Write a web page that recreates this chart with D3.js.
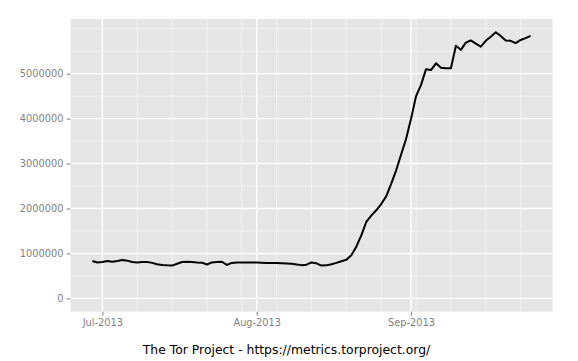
<!DOCTYPE html>
<html>
<head>
<meta charset="utf-8">
<script src="https://cdn.jsdelivr.net/npm/d3@7"></script>
<style>
  body { margin: 0; background: #fff; }
  svg text { font-family: "DejaVu Sans", sans-serif; }
</style>
</head>
<body>
<div id="chart"></div>
<script>
// Data: daily directly-connecting users, first value is 2013-06-29
const startDate = '2013-06-29';
const users = [
    830000, 800000, 810000, 830000, 815000, 830000, 855000, 840000, 810000, 800000,
    810000, 810000, 790000, 760000, 745000, 735000, 730000, 770000, 810000, 815000,
    810000, 800000, 795000, 755000, 800000, 810000, 815000, 745000, 790000, 800000,
    800000, 800000, 800000, 800000, 795000, 790000, 785000, 785000, 780000, 775000,
    770000, 755000, 740000, 750000, 800000, 780000, 730000, 735000, 760000, 790000,
    825000, 860000, 960000, 1150000, 1400000, 1700000, 1840000, 1960000, 2100000, 2270000,
    2550000, 2850000, 3200000, 3550000, 4000000, 4500000, 4750000, 5100000, 5080000, 5230000,
    5130000, 5120000, 5120000, 5620000, 5530000, 5690000, 5740000, 5670000, 5600000, 5730000,
    5820000, 5920000, 5840000, 5740000, 5730000, 5680000, 5750000, 5790000, 5840000
];
const yTicks = [0, 1000000, 2000000, 3000000, 4000000, 5000000];
const xTicks = ['2013-07-01', '2013-08-01', '2013-09-01'];
const caption = 'The Tor Project - https://metrics.torproject.org/';

const config = {
    width: 578,
    height: 361,
    panel: { left: 70.5, right: 552.5, top: 19, bottom: 311.7 },
    panelFill: '#e5e5e5',
    minorGrid: '#f2f2f2',
    axisText: '#7f7f7f'
};

const parse = d3.utcParse('%Y-%m-%d');
const start = parse(startDate);
const data = users.map((v, i) => ({ date: d3.utcDay.offset(start, i), value: v }));

const svg = d3.select('#chart')
    .append('svg')
    .attr('width', config.width)
    .attr('height', config.height);

// Scales with ggplot-style 5% expansion
const xExt = d3.extent(data, d => d.date);
const xPad = (xExt[1] - xExt[0]) * 0.05;
const xScale = d3.scaleUtc()
    .domain([new Date(+xExt[0] - xPad), new Date(+xExt[1] + xPad)])
    .range([config.panel.left, config.panel.right]);

const yMax = d3.max(data, d => d.value);
const yPad = yMax * 0.05;
const yScale = d3.scaleLinear()
    .domain([-yPad, yMax + yPad])
    .range([config.panel.bottom, config.panel.top]);

// Panel background
svg.append('rect')
    .attr('x', config.panel.left)
    .attr('y', config.panel.top)
    .attr('width', config.panel.right - config.panel.left)
    .attr('height', config.panel.bottom - config.panel.top)
    .attr('fill', config.panelFill);

// Minor grid lines
const yMinor = d3.range(500000, 6000001, 500000).filter(v => !yTicks.includes(v));
svg.append('g')
    .selectAll('line')
    .data(yMinor)
    .enter()
    .append('line')
    .attr('x1', config.panel.left)
    .attr('x2', config.panel.right)
    .attr('y1', d => yScale(d))
    .attr('y2', d => yScale(d))
    .attr('stroke', config.minorGrid)
    .attr('stroke-width', 1);

const xMinor = d3.utcWeek.every(1).range(parse('2013-06-30'), xScale.domain()[1])
    .map(d => d3.utcDay.offset(d, 1))
    .filter(d => d <= xScale.domain()[1] && d.getUTCDate() !== 1);
svg.append('g')
    .selectAll('line')
    .data(xMinor)
    .enter()
    .append('line')
    .attr('x1', d => xScale(d))
    .attr('x2', d => xScale(d))
    .attr('y1', config.panel.top)
    .attr('y2', config.panel.bottom)
    .attr('stroke', config.minorGrid)
    .attr('stroke-width', 1);

// Major grid lines
svg.append('g')
    .selectAll('line')
    .data(yTicks)
    .enter()
    .append('line')
    .attr('x1', config.panel.left)
    .attr('x2', config.panel.right)
    .attr('y1', d => yScale(d))
    .attr('y2', d => yScale(d))
    .attr('stroke', '#fff')
    .attr('stroke-width', 1.4);

svg.append('g')
    .selectAll('line')
    .data(xTicks.map(parse))
    .enter()
    .append('line')
    .attr('x1', d => xScale(d))
    .attr('x2', d => xScale(d))
    .attr('y1', config.panel.top)
    .attr('y2', config.panel.bottom)
    .attr('stroke', '#fff')
    .attr('stroke-width', 1.4);

// Axes
const yAxis = d3.axisLeft(yScale)
    .tickValues(yTicks)
    .tickFormat(d3.format('d'))
    .tickSize(4)
    .tickPadding(3);
const yG = svg.append('g')
    .attr('transform', `translate(${config.panel.left},0)`)
    .call(yAxis);

const xAxis = d3.axisBottom(xScale)
    .tickValues(xTicks.map(parse))
    .tickFormat(d3.utcFormat('%b-%Y'))
    .tickSize(4)
    .tickPadding(3);
const xG = svg.append('g')
    .attr('transform', `translate(0,${config.panel.bottom})`)
    .call(xAxis);

[xG, yG].forEach(g => {
    g.select('.domain').remove();
    g.selectAll('.tick line').attr('stroke', config.axisText);
    g.selectAll('.tick text')
        .attr('fill', config.axisText)
        .style('font-size', '9.8px');
});

// Line
const line = d3.line()
    .x(d => xScale(d.date))
    .y(d => yScale(d.value));

svg.append('path')
    .datum(data)
    .attr('fill', 'none')
    .attr('stroke', '#000')
    .attr('stroke-width', 2)
    .attr('stroke-linejoin', 'round')
    .attr('d', line);

// Caption
svg.append('text')
    .attr('x', 286.5)
    .attr('y', 354)
    .attr('text-anchor', 'middle')
    .style('font-size', '12.4px')
    .attr('fill', '#000')
    .text(caption);
</script>
</body>
</html>
